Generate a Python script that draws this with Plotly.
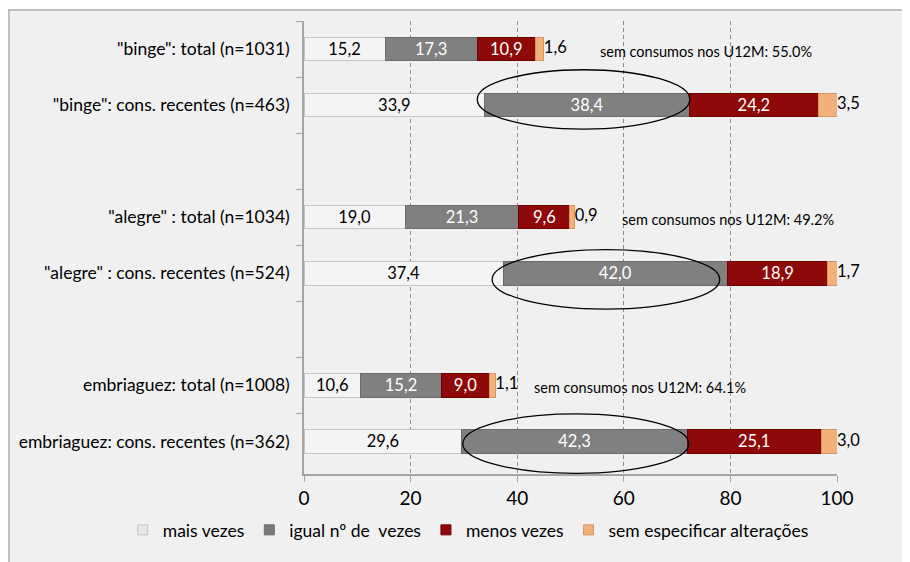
import plotly.graph_objects as go

categories = [
    '"binge": total (n=1031)',
    '"binge": cons. recentes (n=463)',
    ' ',
    '"alegre" : total (n=1034)',
    '"alegre" : cons. recentes (n=524)',
    '  ',
    'embriaguez: total (n=1008)',
    'embriaguez: cons. recentes (n=362)',
]
series_names = ["mais vezes", "igual nº de  vezes", "menos vezes", "sem especificar alterações"]
mais_vezes = [15.2, 33.9, None, 19.0, 37.4, None, 10.6, 29.6]
igual_vezes = [17.3, 38.4, None, 21.3, 42.0, None, 15.2, 42.3]
menos_vezes = [10.9, 24.2, None, 9.6, 18.9, None, 9.0, 25.1]
sem_especificar = [1.6, 3.5, None, 0.9, 1.7, None, 1.1, 3.0]
sem_consumos_labels = ["sem consumos nos U12M: 55.0%", "sem consumos nos U12M: 49.2%", "sem consumos nos U12M: 64.1%"]
sem_consumos_rows = [0, 3, 6]
x_ticks = [0, 20, 40, 60, 80, 100]

FONT = "Lato"
colors = ["#f4f4f4", "#808080", "#8e0a0a", "#f2b07a"]
line_colors = ["#c4c4c4", "#6a6a6a", "#6e0000", "#d99560"]
text_colors = ["#000000", "#ffffff", "#ffffff", "#000000"]
legend_colors = ["#e6e6e6", "#7a7a7a", "#8e0a0a", "#f0b07a"]

def fmt(v):
    return "" if v is None else f"{v:.1f}".replace(".", ",")

fig = go.Figure()
all_series = [mais_vezes, igual_vezes, menos_vezes, sem_especificar]
for i, (name, vals) in enumerate(zip(series_names, all_series)):
    fig.add_trace(go.Bar(
        y=categories, x=vals, name=name, orientation="h",
        marker=dict(color=colors[i], line=dict(color=line_colors[i], width=1)),
        text=[fmt(v) for v in vals] if i < 3 else None,
        textposition="inside",
        insidetextanchor="middle",
        textangle=0,
        constraintext="none",
        textfont=dict(family=FONT, size=16.5, color=text_colors[i]),
        showlegend=False,
        hoverinfo="skip",
    ))

# outside labels for the last segment, placed at the end of each stacked bar
totals = []
for k in range(len(categories)):
    parts = [s[k] for s in all_series]
    totals.append(None if any(p is None for p in parts) else sum(parts))
fig.add_trace(go.Scatter(
    y=categories, x=totals, mode="text", text=[fmt(v) for v in sem_especificar],
    textposition="middle right", textfont=dict(family=FONT, size=16.5, color="#000000"),
    showlegend=False, hoverinfo="skip", cliponaxis=False,
))

# legend entries
for i, name in enumerate(series_names):
    fig.add_trace(go.Scatter(
        x=[None], y=[None], mode="markers", name=name,
        marker=dict(symbol="square", size=10, color=legend_colors[i],
                    line=dict(color=line_colors[i], width=1)),
    ))

# background frame
fig.add_shape(type="rect", xref="paper", yref="paper",
              x0=-0.5535, x1=1.3, y0=-0.4, y1=1.0243,
              fillcolor="#f0f0f0", line=dict(color="#bfbfbf", width=2), layer="below")

# ellipses
for (x0, x1, y0, y1) in [(32.5, 72.4, 0.37, 1.43), (35.3, 78.0, 3.58, 4.64), (29.8, 72.2, 6.51, 7.57)]:
    fig.add_shape(type="circle", xref="x", yref="y", x0=x0, x1=x1, y0=y0, y1=y1,
                  line=dict(color="#000000", width=1.3), fillcolor="rgba(0,0,0,0)", layer="above")

ann_x = [75.4, 79.6, 63.0]
for txt, row, ax in zip(sem_consumos_labels, sem_consumos_rows, ann_x):
    fig.add_annotation(x=ax, y=categories[row], text=txt, showarrow=False,
                       xref="x", yref="y", yshift=-2,
                       font=dict(family=FONT, size=14.5, color="#000000"))

fig.update_layout(
    width=902, height=554,
    margin=dict(l=296, r=73, t=13, b=88, autoexpand=False),
    barmode="stack",
    bargap=0.58,
    paper_bgcolor="#ffffff",
    plot_bgcolor="rgba(0,0,0,0)",
    font=dict(family=FONT, color="#000000"),
    showlegend=True,
    legend=dict(orientation="h", x=-0.34, y=-0.1236, xanchor="left", yanchor="middle",
                font=dict(family=FONT, size=17.5), bgcolor="rgba(0,0,0,0)",
                itemwidth=30, traceorder="normal"),
)
fig.update_xaxes(range=[0, 100], tickvals=x_ticks, ticktext=[str(t) for t in x_ticks],
                 showgrid=True, gridcolor="#8c8c8c", griddash="4px,3px", gridwidth=1,
                 showline=True, linecolor="#a6a6a6", linewidth=1.5,
                 ticks="outside", ticklen=6, tickcolor="#a6a6a6",
                 tickfont=dict(family=FONT, size=19), zeroline=False)
fig.update_yaxes(type="category", categoryorder="array", categoryarray=categories,
                 autorange="reversed", tickson="boundaries",
                 showline=True, linecolor="#a6a6a6", linewidth=1.5,
                 ticks="outside", ticklen=6, tickcolor="#a6a6a6", ticklabelstandoff=9,
                 showgrid=False, tickfont=dict(family=FONT, size=17.5))

fig.write_html("out.html")
